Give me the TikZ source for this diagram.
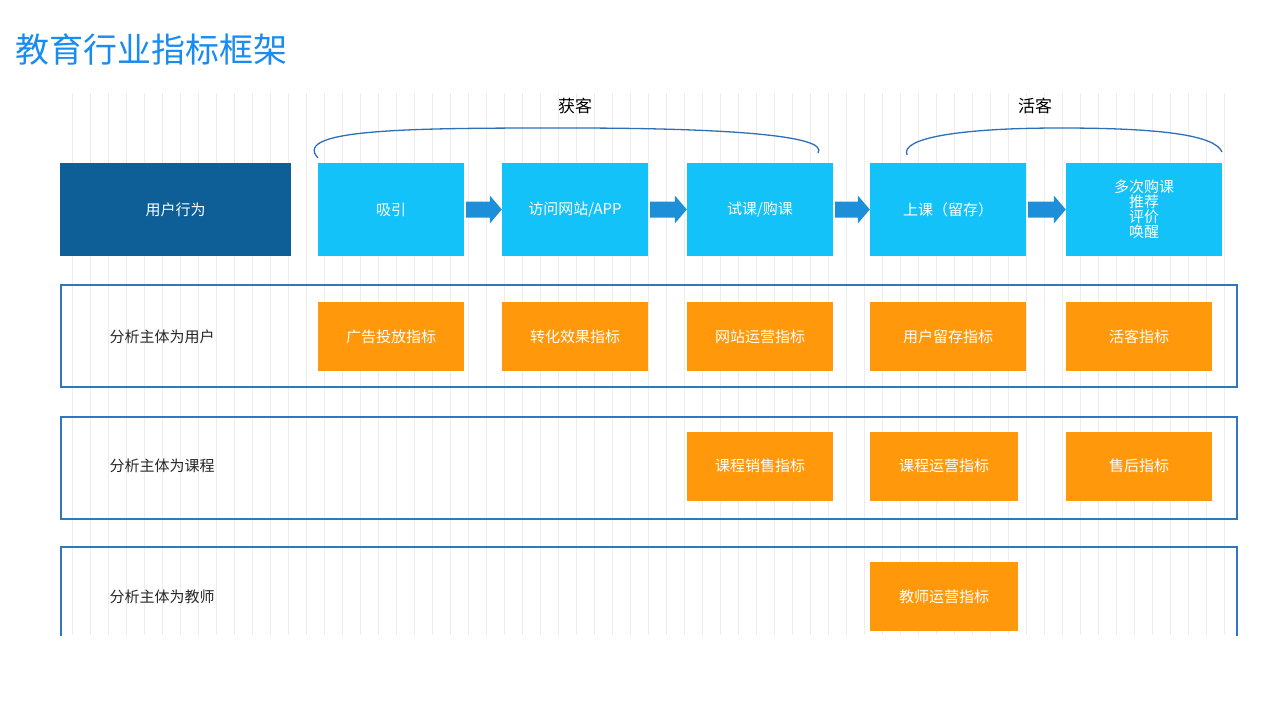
\documentclass[tikz,border=0pt]{standalone}
\usepackage{fontspec}
\setmainfont{Noto Sans CJK SC}
\usetikzlibrary{calc}
\begin{document}
\begin{tikzpicture}[x=1pt,y=-1pt,
 top/.style={fill=topb,draw=none,inner sep=0,text=white,font=\fontsize{15}{17}\selectfont,align=center},
 org/.style={fill=orng,draw=none,inner sep=0,text=white,font=\fontsize{15}{17}\selectfont},
 frame/.style={draw=frm,line width=1.6pt},
 lab/.style={anchor=west,font=\fontsize{15}{17}\selectfont,text=black!85},
 arr/.style={fill=arrb,draw=none},
 arc/.style={draw=arcb,line width=1.3pt}]
\definecolor{topb}{HTML}{12C2F8}
\definecolor{darkb}{HTML}{0E5F97}
\definecolor{orng}{HTML}{FF980A}
\definecolor{frm}{HTML}{2F78C0}
\definecolor{arrb}{HTML}{1C8FD8}
\definecolor{arcb}{HTML}{2E6FB8}
\definecolor{ttl}{HTML}{1A8CF0}
\useasboundingbox (0,0) rectangle (1268,717);
\draw[black!7,line width=0.5pt,step=18] (55,93) grid (1237,635);
\node[anchor=west,text=ttl,font=\fontsize{34}{40}\selectfont] (title) at (12,50) {教育行业指标框架};
% top row
\node[fill=darkb,inner sep=0,text=white,font=\fontsize{15}{17}\selectfont,minimum width=231,minimum height=93] (ub) at (175.5,209.5) {用户行为};
\node[top,minimum width=146,minimum height=93] (a1) at (391,209.5) {吸引};
\node[top,minimum width=146,minimum height=93] (a2) at (575,209.5) {访问网站/APP};
\node[top,minimum width=146,minimum height=93] (a3) at (760,209.5) {试课/购课};
\node[top,minimum width=156,minimum height=93] (a4) at (948,209.5) {上课（留存）};
\node[top,minimum width=156,minimum height=93,font=\fontsize{15}{15}\selectfont] (a5) at (1144,209.5) {多次购课\\推荐\\评价\\唤醒};
\foreach \p/\q in {a1/a2,a2/a3,a3/a4,a4/a5}{
 \path (\p.east) ++(2,0) coordinate (s);
 \path (\q.west) coordinate (e);
 \fill[arrb] ($(s)+(0,-8)$) -- ($(e)+(-12,-8)$) -- ($(e)+(-12,-14)$) -- (e) -- ($(e)+(-12,14)$) -- ($(e)+(-12,8)$) -- ($(s)+(0,8)$) -- cycle;
}
% arcs
\coordinate (g1) at (318,158); \coordinate (g2) at (818,153);
\draw[arc] (g1) .. controls (290,128) and (420,128) .. (570,128) .. controls (720,128) and (830,135) .. (g2);
\node[font=\fontsize{17}{20}\selectfont] (hk) at (575,106) {获客};
\coordinate (h1) at (907,155); \coordinate (h2) at (1222,152);
\draw[arc] (h1) .. controls (900,138) and (960,128) .. (1060,128) .. controls (1160,128) and (1215,135) .. (h2);
\node[font=\fontsize{17}{20}\selectfont] (hh) at (1035,106) {活客};
% frames
\draw[frame] (61,285) rectangle (1237,387);
\draw[frame] (61,417) rectangle (1237,519);
\draw[frame] (61,636) |- (1237,547) -- (1237,636);
\node[lab] (l1) at (106,337) {分析主体为用户};
\node[lab] (l2) at (106,466) {分析主体为课程};
\node[lab] (l3) at (106,597) {分析主体为教师};
\node[org,minimum width=146,minimum height=69] at (391,336.5) {广告投放指标};
\node[org,minimum width=146,minimum height=69] at (575,336.5) {转化效果指标};
\node[org,minimum width=146,minimum height=69] at (760,336.5) {网站运营指标};
\node[org,minimum width=156,minimum height=69] at (948,336.5) {用户留存指标};
\node[org,minimum width=146,minimum height=69] at (1139,336.5) {活客指标};
\node[org,minimum width=146,minimum height=69] at (760,466) {课程销售指标};
\node[org,minimum width=148,minimum height=69] at (944,466) {课程运营指标};
\node[org,minimum width=146,minimum height=69] at (1139,466) {售后指标};
\node[org,minimum width=148,minimum height=69] at (944,596.5) {教师运营指标};
\fill[white] (40,637) rectangle (1260,717);
\end{tikzpicture}
\end{document}
